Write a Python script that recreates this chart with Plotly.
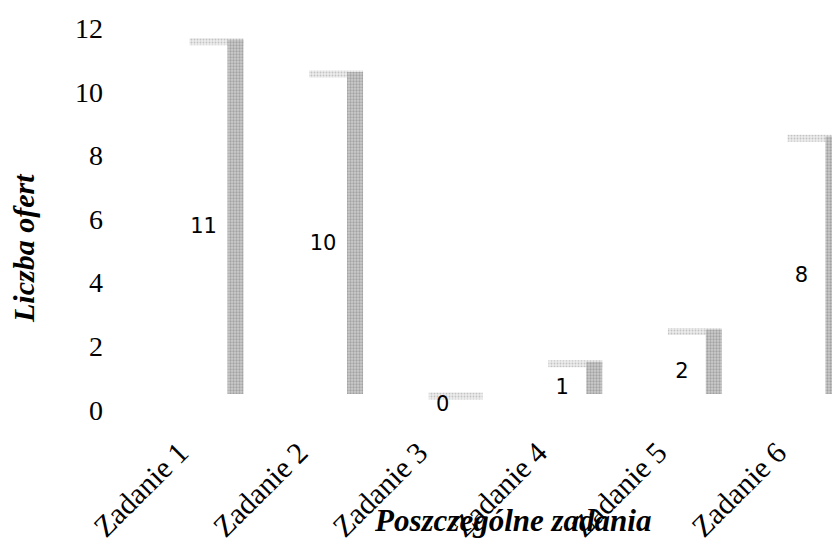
import plotly.graph_objects as go

categories = ["Zadanie 1", "Zadanie 2", "Zadanie 3", "Zadanie 4", "Zadanie 5", "Zadanie 6"]
offers = [11, 10, 0, 1, 2, 8]
y_ticks = [0, 2, 4, 6, 8, 10, 12]
x_title = "Poszczególne zadania"
y_title = "Liczba ofert"

xs = list(range(len(categories)))

W, H = 832, 543

# plot area in page pixels
PL, PR, PT, PB = 106, 832, 20, 428
L, R, T, B = PL, W - PR, PT, H - PB

serif = "Liberation Serif"

fig = go.Figure()

# invisible trace so that the tick axis (y) gets drawn
fig.add_trace(go.Scatter(x=[xs[0]], y=[y_ticks[0]], mode="markers",
                         marker=dict(opacity=0), hoverinfo="skip", showlegend=False))

# top faces (thin light strips)
fig.add_trace(go.Bar(
    x=xs, y=[0.22] * len(offers), base=[v - 0.17 for v in offers], yaxis="y2",
    offset=-0.117, width=0.451,
    marker=dict(color="#d9d9d9", line=dict(width=0),
                pattern=dict(shape=".", fgcolor="#9a9a9a", bgcolor="#ececec",
                             size=3, solidity=0.3)),
    hoverinfo="skip", showlegend=False,
))

# right (side) faces of the 3-D columns
fig.add_trace(go.Bar(
    x=xs, y=offers, base=0, yaxis="y2",
    offset=0.2, width=0.134,
    marker=dict(color="#b0b0b0", line=dict(width=0),
                pattern=dict(shape=".", fgcolor="#777777", bgcolor="#cccccc",
                             size=3, solidity=0.45)),
    hoverinfo="skip", showlegend=False,
))

# value labels
fig.add_trace(go.Scatter(
    x=xs, y=[v / 2 - 0.35 for v in offers], yaxis="y2",
    mode="text", text=[str(v) for v in offers],
    textfont=dict(family="DejaVu Sans", size=21, color="#000000"),
    hoverinfo="skip", showlegend=False, cliponaxis=False,
))

plot_w = PR - PL
plot_h = PB - PT

fig.update_layout(
    width=W, height=H,
    margin=dict(l=L, r=R, t=T, b=B, autoexpand=False),
    paper_bgcolor="white", plot_bgcolor="white",
    barmode="overlay",
    showlegend=False,
    xaxis=dict(
        range=[(PL - 203.5) / 119.6, (PR - 203.5) / 119.6],
        tickvals=xs, ticktext=categories, tickangle=-45,
        tickfont=dict(family=serif, size=30, color="#000000"),
        showgrid=False, zeroline=False, showline=False, ticks="",
        ticklabelshift=-24,
    ),
    yaxis=dict(
        range=[(410 - PB) / 31.83, (410 - PT) / 31.83],
        tickvals=y_ticks, ticktext=[str(t) for t in y_ticks],
        tickfont=dict(family=serif, size=28, color="#000000"),
        showgrid=False, zeroline=False, showline=False, ticks="",
        ticklabelstandoff=2,
    ),
    yaxis2=dict(
        range=[(394 - PB) / 32.2, (394 - PT) / 32.2],
        overlaying="y", visible=False,
    ),
    annotations=[
        dict(text=y_title, xref="paper", yref="paper",
             x=(23 - PL) / plot_w, y=(PB - 248) / plot_h,
             xanchor="center", yanchor="middle", textangle=-90, showarrow=False,
             font=dict(family=serif, size=30, color="#000000",
                       weight="bold", style="italic")),
        dict(text=x_title, xref="paper", yref="paper",
             x=(512 - PL) / plot_w, y=(PB - 520) / plot_h,
             xanchor="center", yanchor="middle", showarrow=False,
             font=dict(family=serif, size=31, color="#000000",
                       weight="bold", style="italic")),
    ],
)

fig.write_html(
    "out.html",
    config={"displayModeBar": False},
    post_script="document.body.style.margin='0';document.body.style.overflow='hidden';",
)
